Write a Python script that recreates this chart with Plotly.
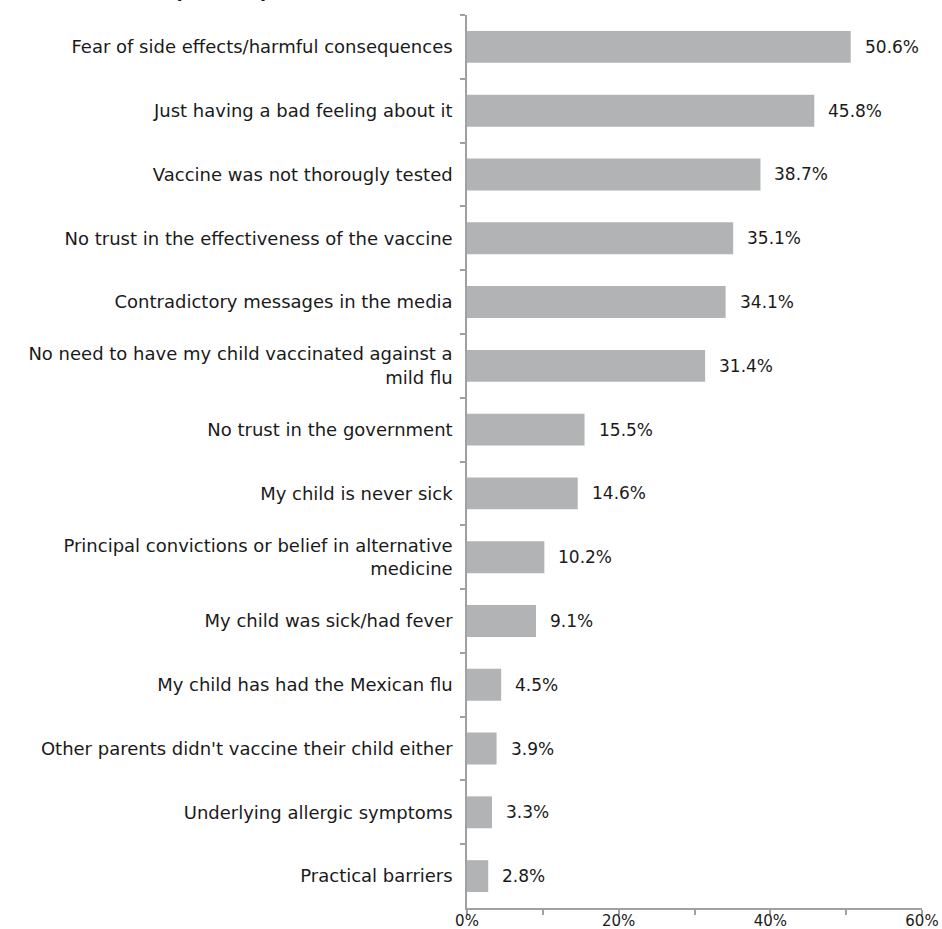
import plotly.graph_objects as go

# Reasons given by parents for not vaccinating their child (percent of respondents)
reasons = [
    "Fear of side effects/harmful consequences",
    "Just having a bad feeling about it",
    "Vaccine was not thorougly tested",
    "No trust in the effectiveness of the vaccine",
    "Contradictory messages in the media",
    "No need to have my child vaccinated against a<br>mild flu",
    "No trust in the government",
    "My child is never sick",
    "Principal convictions or belief in alternative<br>medicine",
    "My child was sick/had fever",
    "My child has had the Mexican flu",
    "Other parents didn't vaccine their child either",
    "Underlying allergic symptoms",
    "Practical barriers",
]
shares = [50.6, 45.8, 38.7, 35.1, 34.1, 31.4, 15.5, 14.6, 10.2, 9.1, 4.5, 3.9, 3.3, 2.8]
x_ticks = [0, 20, 40, 60]
x_tick_text = ["0%", "20%", "40%", "60%"]
title_text = "Parents (n=594)"

FONT = "DejaVu Sans"
TEXT = "#1a1a1a"
AXIS = "#a0a0a0"
BAR = "#b2b3b5"
FS = 18

fig = go.Figure(
    go.Bar(
        x=shares,
        y=reasons,
        orientation="h",
        marker=dict(color=BAR, line=dict(width=0)),
        width=0.5,
        hoverinfo="skip",
    )
)

# value labels just past the end of each bar
for r, v in zip(reasons, shares):
    fig.add_annotation(
        x=v, y=r, xref="x", yref="y",
        text=f"{v:.1f}%",
        showarrow=False, xanchor="left", xshift=12,
        font=dict(family=FONT, size=17, color=TEXT),
    )

# chart heading (sits above the plotting area)
fig.add_annotation(
    x=-0.43, y=1.011, xref="paper", yref="paper",
    text=f"<b>{title_text}</b>", showarrow=False,
    xanchor="right", yanchor="bottom",
    font=dict(family=FONT, size=21, color=TEXT),
)

fig.update_layout(
    width=942, height=929,
    margin=dict(l=467, r=20, t=15, b=21, autoexpand=False),
    paper_bgcolor="white", plot_bgcolor="white",
    showlegend=False,
    font=dict(family=FONT, size=FS, color=TEXT),
    bargap=0.5,
)

fig.update_xaxes(
    range=[0, 60],
    tickmode="array", tickvals=x_ticks, ticktext=x_tick_text,
    showgrid=False, zeroline=False,
    showline=True, linecolor=AXIS, linewidth=1.5,
    ticks="outside", ticklen=5, tickcolor=AXIS, tickwidth=1.5,
    minor=dict(dtick=10, ticks="outside", ticklen=5, tickcolor=AXIS, tickwidth=1.5),
    ticklabelstandoff=-7,
    tickfont=dict(family=FONT, size=15, color=TEXT),
    automargin=False,
    fixedrange=True,
)

fig.update_yaxes(
    categoryorder="array", categoryarray=reasons,
    autorange="reversed",
    showgrid=False, zeroline=False,
    showline=True, linecolor=AXIS, linewidth=1.5,
    ticks="outside", tickson="boundaries", ticklen=5, tickcolor=AXIS, tickwidth=1.5,
    ticklabelstandoff=9,
    tickfont=dict(family=FONT, size=FS, color=TEXT),
    automargin=False,
    fixedrange=True,
)

fig.write_html("out.html", config={"displayModeBar": False})
